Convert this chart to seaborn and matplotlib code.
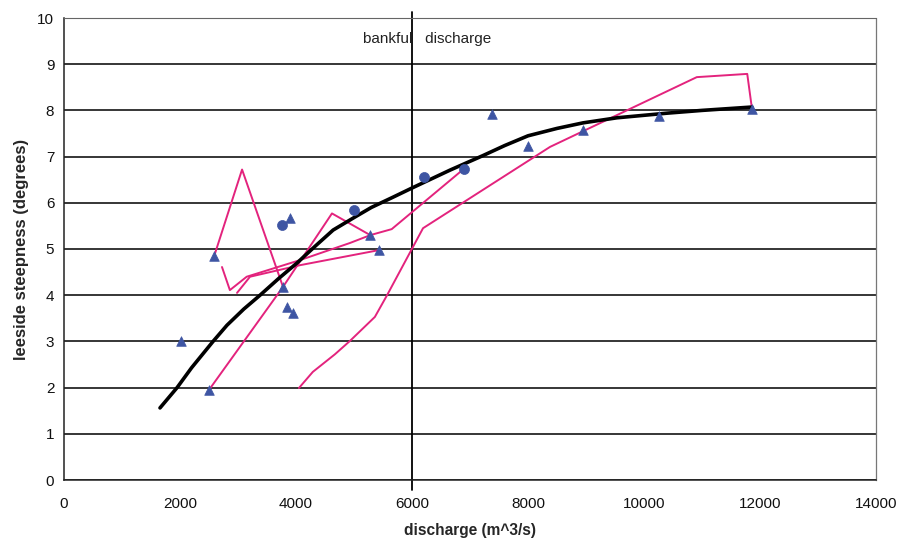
import matplotlib
matplotlib.use("Agg")
import matplotlib.pyplot as plt
import seaborn as sns
import numpy as np
import pandas as pd

# ---- data ----
tri_x = [2017, 2500, 2590, 3896, 3776, 3840, 3943, 5276, 5431, 7379, 7999, 8948, 10258, 11861]
tri_y = [3.01, 1.95, 4.84, 5.67, 4.18, 3.75, 3.61, 5.30, 4.98, 7.92, 7.23, 7.58, 7.88, 8.04]

circ_x = [3755, 5000, 6207, 6897]
circ_y = [5.53, 5.85, 6.55, 6.73]

trend_x = [1655, 1950, 2200, 2570, 2810, 3100, 3380, 3700, 4020, 4330, 4640, 5000, 5300,
           5670, 6000, 6660, 7220, 7600, 8000, 8500, 8948, 9534, 10396, 11000, 11828, 11860]
trend_y = [1.56, 2.00, 2.43, 3.00, 3.35, 3.70, 4.00, 4.36, 4.70, 5.06, 5.41, 5.68, 5.90,
           6.12, 6.32, 6.71, 7.02, 7.24, 7.45, 7.61, 7.73, 7.84, 7.94, 8.00, 8.07, 8.07]

loop1_x = [2590, 3070, 3776]
loop1_y = [4.85, 6.72, 4.18]

loop2_x = [2500, 3776, 4620, 5280]
loop2_y = [1.95, 4.18, 5.77, 5.30]

loop3_x = [2724, 2860, 3150, 4070, 4930, 5280, 5650, 6880]
loop3_y = [4.61, 4.11, 4.40, 4.76, 5.13, 5.30, 5.43, 6.72]

loop4_x = [2983, 3207, 4070, 5448]
loop4_y = [4.05, 4.40, 4.65, 4.98]

loop5_x = [4050, 4290, 4670, 4930, 5360, 5570, 6190, 8380, 10910, 11780, 11860]
loop5_y = [1.99, 2.34, 2.72, 3.01, 3.53, 4.00, 5.45, 7.21, 8.72, 8.79, 8.05]

bankful_x = 6000
x_ticks = [0, 2000, 4000, 6000, 8000, 10000, 12000, 14000]
y_ticks = list(range(0, 11))

# ---- style ----
sns.set_style("white")
plt.rcParams['font.family'] = ['Liberation Sans', 'DejaVu Sans']

fig = plt.figure(figsize=(9.01, 5.42), dpi=100)
ax = fig.add_axes([64/901, 1-480/542, 812/901, 462/542])

pink = '#e3237d'
blue = '#3e55a3'

for lx, ly in [(loop1_x, loop1_y), (loop2_x, loop2_y), (loop3_x, loop3_y),
               (loop4_x, loop4_y), (loop5_x, loop5_y)]:
    sns.lineplot(x=lx, y=ly, sort=False, estimator=None, color=pink, lw=1.4, ax=ax, zorder=3)

sns.lineplot(x=trend_x, y=trend_y, sort=False, estimator=None, color='black', lw=2.6, ax=ax, zorder=4)

sns.scatterplot(x=tri_x, y=tri_y, marker='^', s=48, color=blue, edgecolor=blue, linewidth=0.5, ax=ax, zorder=5)
sns.scatterplot(x=circ_x, y=circ_y, marker='o', s=52, color=blue, edgecolor=blue, linewidth=0.5, ax=ax, zorder=5)

ax.set_xlim(0, 14000)
ax.set_ylim(0, 10)
ax.set_xticks(x_ticks)
ax.set_yticks(y_ticks)
ax.set_xticks(np.arange(1000, 14000, 2000), minor=True)
ax.set_yticks(np.arange(0.5, 10, 1), minor=True)

ax.yaxis.grid(True, which='major', color='black', lw=1.1)
ax.xaxis.grid(False)
ax.set_axisbelow(True)

ax.plot([bankful_x, bankful_x], [-0.22, 10.13], color='black', lw=1.3, clip_on=False, zorder=2)
ax.text(5150, 9.55, "bankful   discharge", fontsize=11, va='center', ha='left', color='#222222')

for s in ['left', 'bottom']:
    ax.spines[s].set_color('#222222')
    ax.spines[s].set_linewidth(1.1)
ax.spines['top'].set_color('#666666')
ax.spines['top'].set_linewidth(0.8)
ax.spines['right'].set_color('#777777')
ax.spines['right'].set_linewidth(0.9)
ax.spines['right'].set_linestyle((0, (1, 1)))

ax.tick_params(axis='x', which='major', direction='inout', length=8, width=1, labelsize=11, pad=8, colors='#222222')
ax.tick_params(axis='x', which='minor', direction='in', length=4, width=0.8, colors='#222222')
ax.tick_params(axis='y', which='major', direction='out', length=4, width=1, labelsize=11, pad=3, colors='#222222')
ax.tick_params(axis='y', which='minor', direction='in', length=3, width=0.8, colors='#444444')
ax.tick_params(labelcolor='#111111')

ax.set_xlabel("discharge (m^3/s)", fontsize=11.2, fontweight='bold', labelpad=9)
ax.set_ylabel("leeside steepness (degrees)", fontsize=12, fontweight='bold', labelpad=6)

fig.savefig("out.png", dpi=100)
